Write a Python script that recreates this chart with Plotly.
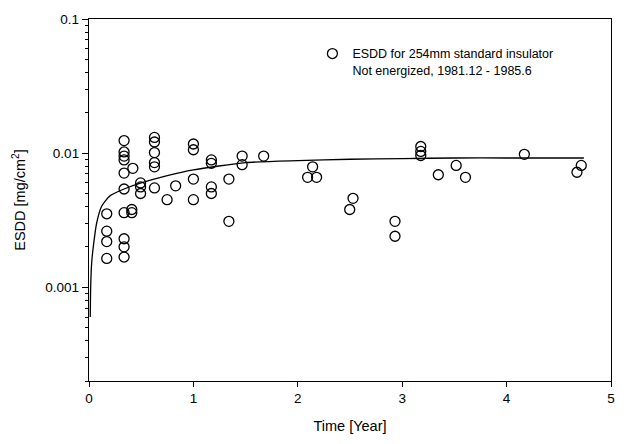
import plotly.graph_objects as go

# Measured ESDD samples (time in years, ESDD in mg/cm^2)
time_years = [
    0.17, 0.17, 0.17, 0.17,
    0.336, 0.336, 0.336, 0.336, 0.336, 0.336, 0.336, 0.336, 0.336, 0.336,
    0.42, 0.41, 0.41,
    0.494, 0.494, 0.494,
    0.627, 0.627, 0.627, 0.627, 0.627, 0.627,
    0.748, 0.83,
    1.0, 1.0, 1.0, 1.0,
    1.172, 1.172, 1.172, 1.172,
    1.34, 1.34,
    1.467, 1.467,
    1.673,
    2.142, 2.094, 2.18,
    2.529, 2.497,
    2.931, 2.931,
    3.178, 3.178, 3.178,
    3.346, 3.517, 3.606,
    4.17,
    4.715, 4.674,
]
esdd_values = [
    0.00353, 0.00262, 0.00219, 0.00164,
    0.0124, 0.0102, 0.0095, 0.0089, 0.0071, 0.0054, 0.0036, 0.0023, 0.0020, 0.00168,
    0.0077, 0.0038, 0.0036,
    0.0060, 0.0056, 0.0050,
    0.0131, 0.0121, 0.0101, 0.0085, 0.0079, 0.0055,
    0.0045, 0.0057,
    0.0117, 0.0106, 0.0064, 0.0045,
    0.0089, 0.0084, 0.0056, 0.0050,
    0.0064, 0.0031,
    0.0095, 0.0082,
    0.0095,
    0.0079, 0.0066, 0.0066,
    0.0046, 0.0038,
    0.0031, 0.0024,
    0.0112, 0.0103, 0.0096,
    0.0069, 0.0081, 0.0066,
    0.0098,
    0.0081, 0.0072,
]

# Fitted trend curve
curve_time = [0.012, 0.016, 0.025, 0.041, 0.073, 0.12, 0.2, 0.336, 0.5, 0.75,
              1.0, 1.5, 2.0, 2.5, 3.0, 3.5, 4.0, 4.74]
curve_esdd = [0.0006, 0.001, 0.0015, 0.002, 0.003, 0.004, 0.0048, 0.0054, 0.0060, 0.0068,
              0.0075, 0.0085, 0.0088, 0.0090, 0.0091, 0.0092, 0.0092, 0.0092]

x_ticks = [0, 1, 2, 3, 4, 5]
y_ticks = [0.001, 0.01, 0.1]
y_tick_text = ["0.001", "0.01", "0.1"]
y_minor = [m * 10 ** e for e in (-4, -3, -2) for m in range(2, 10)]

legend_name = "ESDD for 254mm standard insulator<br>Not energized, 1981.12 - 1985.6"

fig = go.Figure()
fig.add_trace(go.Scatter(
    x=curve_time, y=curve_esdd, mode="lines", line=dict(color="black", width=1.3, shape="spline", smoothing=0.6),
    showlegend=False, hoverinfo="skip",
))
fig.add_trace(go.Scatter(
    x=time_years, y=esdd_values, mode="markers", name=legend_name,
    marker=dict(symbol="circle-open", size=10, color="black", line=dict(width=1.3, color="black")),
))

font_family = "Liberation Sans, Arial, sans-serif"
fig.update_layout(
    width=627, height=444,
    margin=dict(l=89, r=12, t=15, b=63),
    paper_bgcolor="white", plot_bgcolor="white",
    font=dict(family=font_family, size=13, color="black"),
    showlegend=True,
    legend=dict(x=0.428, y=0.945, xanchor="left", yanchor="top", bgcolor="rgba(0,0,0,0)",
                font=dict(size=12.5), valign="top", itemwidth=30),
    xaxis=dict(
        range=[0, 5], tickvals=x_ticks, ticks="outside", ticklen=5, tickwidth=1, tickcolor="black",
        showline=True, linecolor="black", linewidth=1.3, mirror=True, showgrid=False, zeroline=False,
        tickfont=dict(size=13.5),
        title=dict(text="Time [Year]", font=dict(size=14.5), standoff=15),
    ),
    yaxis=dict(
        type="log", range=[-3.69897, -1], tickvals=y_ticks, ticktext=y_tick_text,
        ticks="outside", ticklen=6, tickwidth=1, tickcolor="black",
        minor=dict(tickvals=y_minor, ticks="outside", ticklen=3, tickcolor="black", showgrid=False),
        showline=True, linecolor="black", linewidth=1.3, mirror=True, showgrid=False, zeroline=False,
        tickfont=dict(size=13.5),
        title=dict(text="ESDD [mg/cm<sup>2</sup>]", font=dict(size=14.5), standoff=16),
    ),
)

fig.write_html("out.html")
